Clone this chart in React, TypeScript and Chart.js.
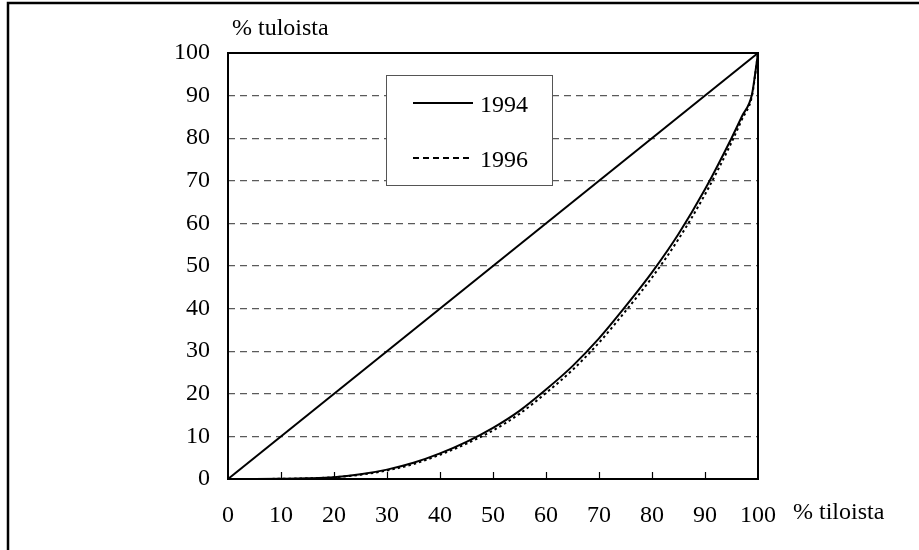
import React, { useEffect, useRef } from "react";
import { Chart, registerables } from "chart.js";

Chart.register(...registerables);

// Share of farms (x, %) and cumulative share of income (y, %)
const farmShare = [0, 5, 10, 15, 20, 25, 30, 35, 40, 45, 50, 55, 60, 65, 70, 75, 80, 85, 90, 95, 97, 98.85, 99.45, 100];
const income1994 = [0, 0, 0.05, 0.15, 0.4, 1.1, 2.2, 3.8, 6, 8.7, 12, 16, 21, 26.5, 33, 40.5, 48.5, 57.5, 68, 80, 85.2, 90.2, 95, 100];
const income1996 = [0, 0, 0.05, 0.15, 0.4, 1.0, 2.0, 3.5, 5.7, 8.3, 11.4, 15.3, 20.2, 25.6, 32, 39.4, 47.3, 56.3, 66.8, 79, 84.5, 89.8, 94.7, 100];
const equalityX = [0, 100];
const equalityY = [0, 100];
const xTickValues = [10, 20, 30, 40, 50, 60, 70, 80, 90];
const legendLabels = ["1994", "1996"];
const yTitle = "% tuloista";
const xTitle = "% tiloista";

const FONT = '"Liberation Serif", "Times New Roman", Tinos, serif';

function pts(xs: number[], ys: number[]) {
  return xs.map((x, i) => ({ x, y: ys[i] }));
}

const decorPlugin = {
  id: "decor",
  beforeDraw(chart: any) {
    const ctx = chart.ctx;
    ctx.save();
    ctx.fillStyle = "#fff";
    ctx.fillRect(0, 0, chart.width, chart.height);
    ctx.restore();
  },
  afterDraw(chart: any) {
    const ctx = chart.ctx;
    const { left, right, top, bottom } = chart.chartArea;
    const xs = chart.scales.x;
    ctx.save();
    // outer frame
    ctx.strokeStyle = "#000";
    ctx.lineWidth = 2.5;
    ctx.beginPath();
    ctx.moveTo(8, chart.height + 5);
    ctx.lineTo(8, 3);
    ctx.lineTo(chart.width + 5, 3);
    ctx.stroke();
    // plot frame
    ctx.lineWidth = 2;
    ctx.strokeRect(left, top, right - left, bottom - top);
    // inner x ticks
    ctx.lineWidth = 1.2;
    ctx.beginPath();
    xTickValues.forEach((v) => {
      const px = Math.round(xs.getPixelForValue(v)) + 0.5;
      ctx.moveTo(px, bottom);
      ctx.lineTo(px, bottom - 7);
    });
    ctx.stroke();
    // axis titles
    ctx.fillStyle = "#000";
    ctx.font = `24px ${FONT}`;
    ctx.textBaseline = "alphabetic";
    ctx.textAlign = "left";
    ctx.fillText(yTitle, 232, 35);
    ctx.fillText(xTitle, 793, 519);
    // legend
    const lx = 386, ly = 75, lw = 166, lh = 110;
    ctx.fillStyle = "#fff";
    ctx.fillRect(lx, ly, lw, lh);
    ctx.strokeStyle = "#555";
    ctx.lineWidth = 1;
    ctx.strokeRect(lx + 0.5, ly + 0.5, lw, lh);
    ctx.strokeStyle = "#000";
    ctx.lineWidth = 2;
    ctx.beginPath();
    ctx.moveTo(413, 103);
    ctx.lineTo(473, 103);
    ctx.stroke();
    ctx.setLineDash([6, 4]);
    ctx.lineWidth = 2.2;
    ctx.beginPath();
    ctx.moveTo(413, 158);
    ctx.lineTo(473, 158);
    ctx.stroke();
    ctx.setLineDash([]);
    ctx.fillStyle = "#000";
    ctx.fillText(legendLabels[0], 480, 112);
    ctx.fillText(legendLabels[1], 480, 167);
    ctx.restore();
  },
};

export default function App() {
  const ref = useRef<HTMLCanvasElement>(null);
  useEffect(() => {
    if (!ref.current) return;
    let chart: any = null;
    let cancelled = false;
    const build = () => {
      if (cancelled || !ref.current) return;
      chart = new Chart(ref.current, {
        type: "scatter",
        data: {
          datasets: [
            {
              label: "tasajako",
              data: pts(equalityX, equalityY),
              showLine: true,
              borderColor: "#000",
              borderWidth: 2,
              pointRadius: 0,
            },
            {
              label: legendLabels[1],
              data: pts(farmShare, income1996),
              showLine: true,
              borderColor: "#000",
              borderWidth: 2,
              borderDash: [2.5, 3],
              pointRadius: 0,
              cubicInterpolationMode: "monotone",
            },
            {
              label: legendLabels[0],
              data: pts(farmShare, income1994),
              showLine: true,
              borderColor: "#000",
              borderWidth: 2,
              pointRadius: 0,
              cubicInterpolationMode: "monotone",
            },
          ],
        } as any,
        options: {
          animation: false,
          responsive: false,
          layout: { padding: { left: 0, right: 161, top: 53, bottom: 0 } },
          plugins: { legend: { display: false }, tooltip: { enabled: false } },
          scales: {
            x: {
              type: "linear",
              min: 0,
              max: 100,
              afterFit: (s: any) => { s.height = 71; },
              grid: { display: false, drawTicks: false },
              border: { display: false },
              ticks: {
                stepSize: 10,
                padding: 22,
                color: "#000",
                font: { family: FONT, size: 24 },
                maxRotation: 0,
                autoSkip: false,
              },
            },
            y: {
              type: "linear",
              min: 0,
              max: 100,
              afterFit: (s: any) => { s.width = 228; },
              grid: {
                color: "#5a5a5a",
                lineWidth: 1.2,
                drawTicks: false,
              },
              border: { display: false, dash: [7, 5] },
              ticks: {
                stepSize: 10,
                padding: 18,
                color: "#000",
                font: { family: FONT, size: 24 },
              },
            },
          },
        } as any,
        plugins: [decorPlugin],
      });
    };
    const fonts: any = (document as any).fonts;
    if (fonts && fonts.load) {
      Promise.all([
        fonts.load('24px "Liberation Serif"'),
        fonts.load('24px "Times New Roman"'),
      ]).then(build, build);
    } else {
      build();
    }
    return () => {
      cancelled = true;
      if (chart) chart.destroy();
    };
  }, []);
  return (
    <div style={{ position: "absolute", left: 0, top: 0, width: 919, height: 550 }}>
      <canvas ref={ref} width={919} height={550} />
    </div>
  );
}
